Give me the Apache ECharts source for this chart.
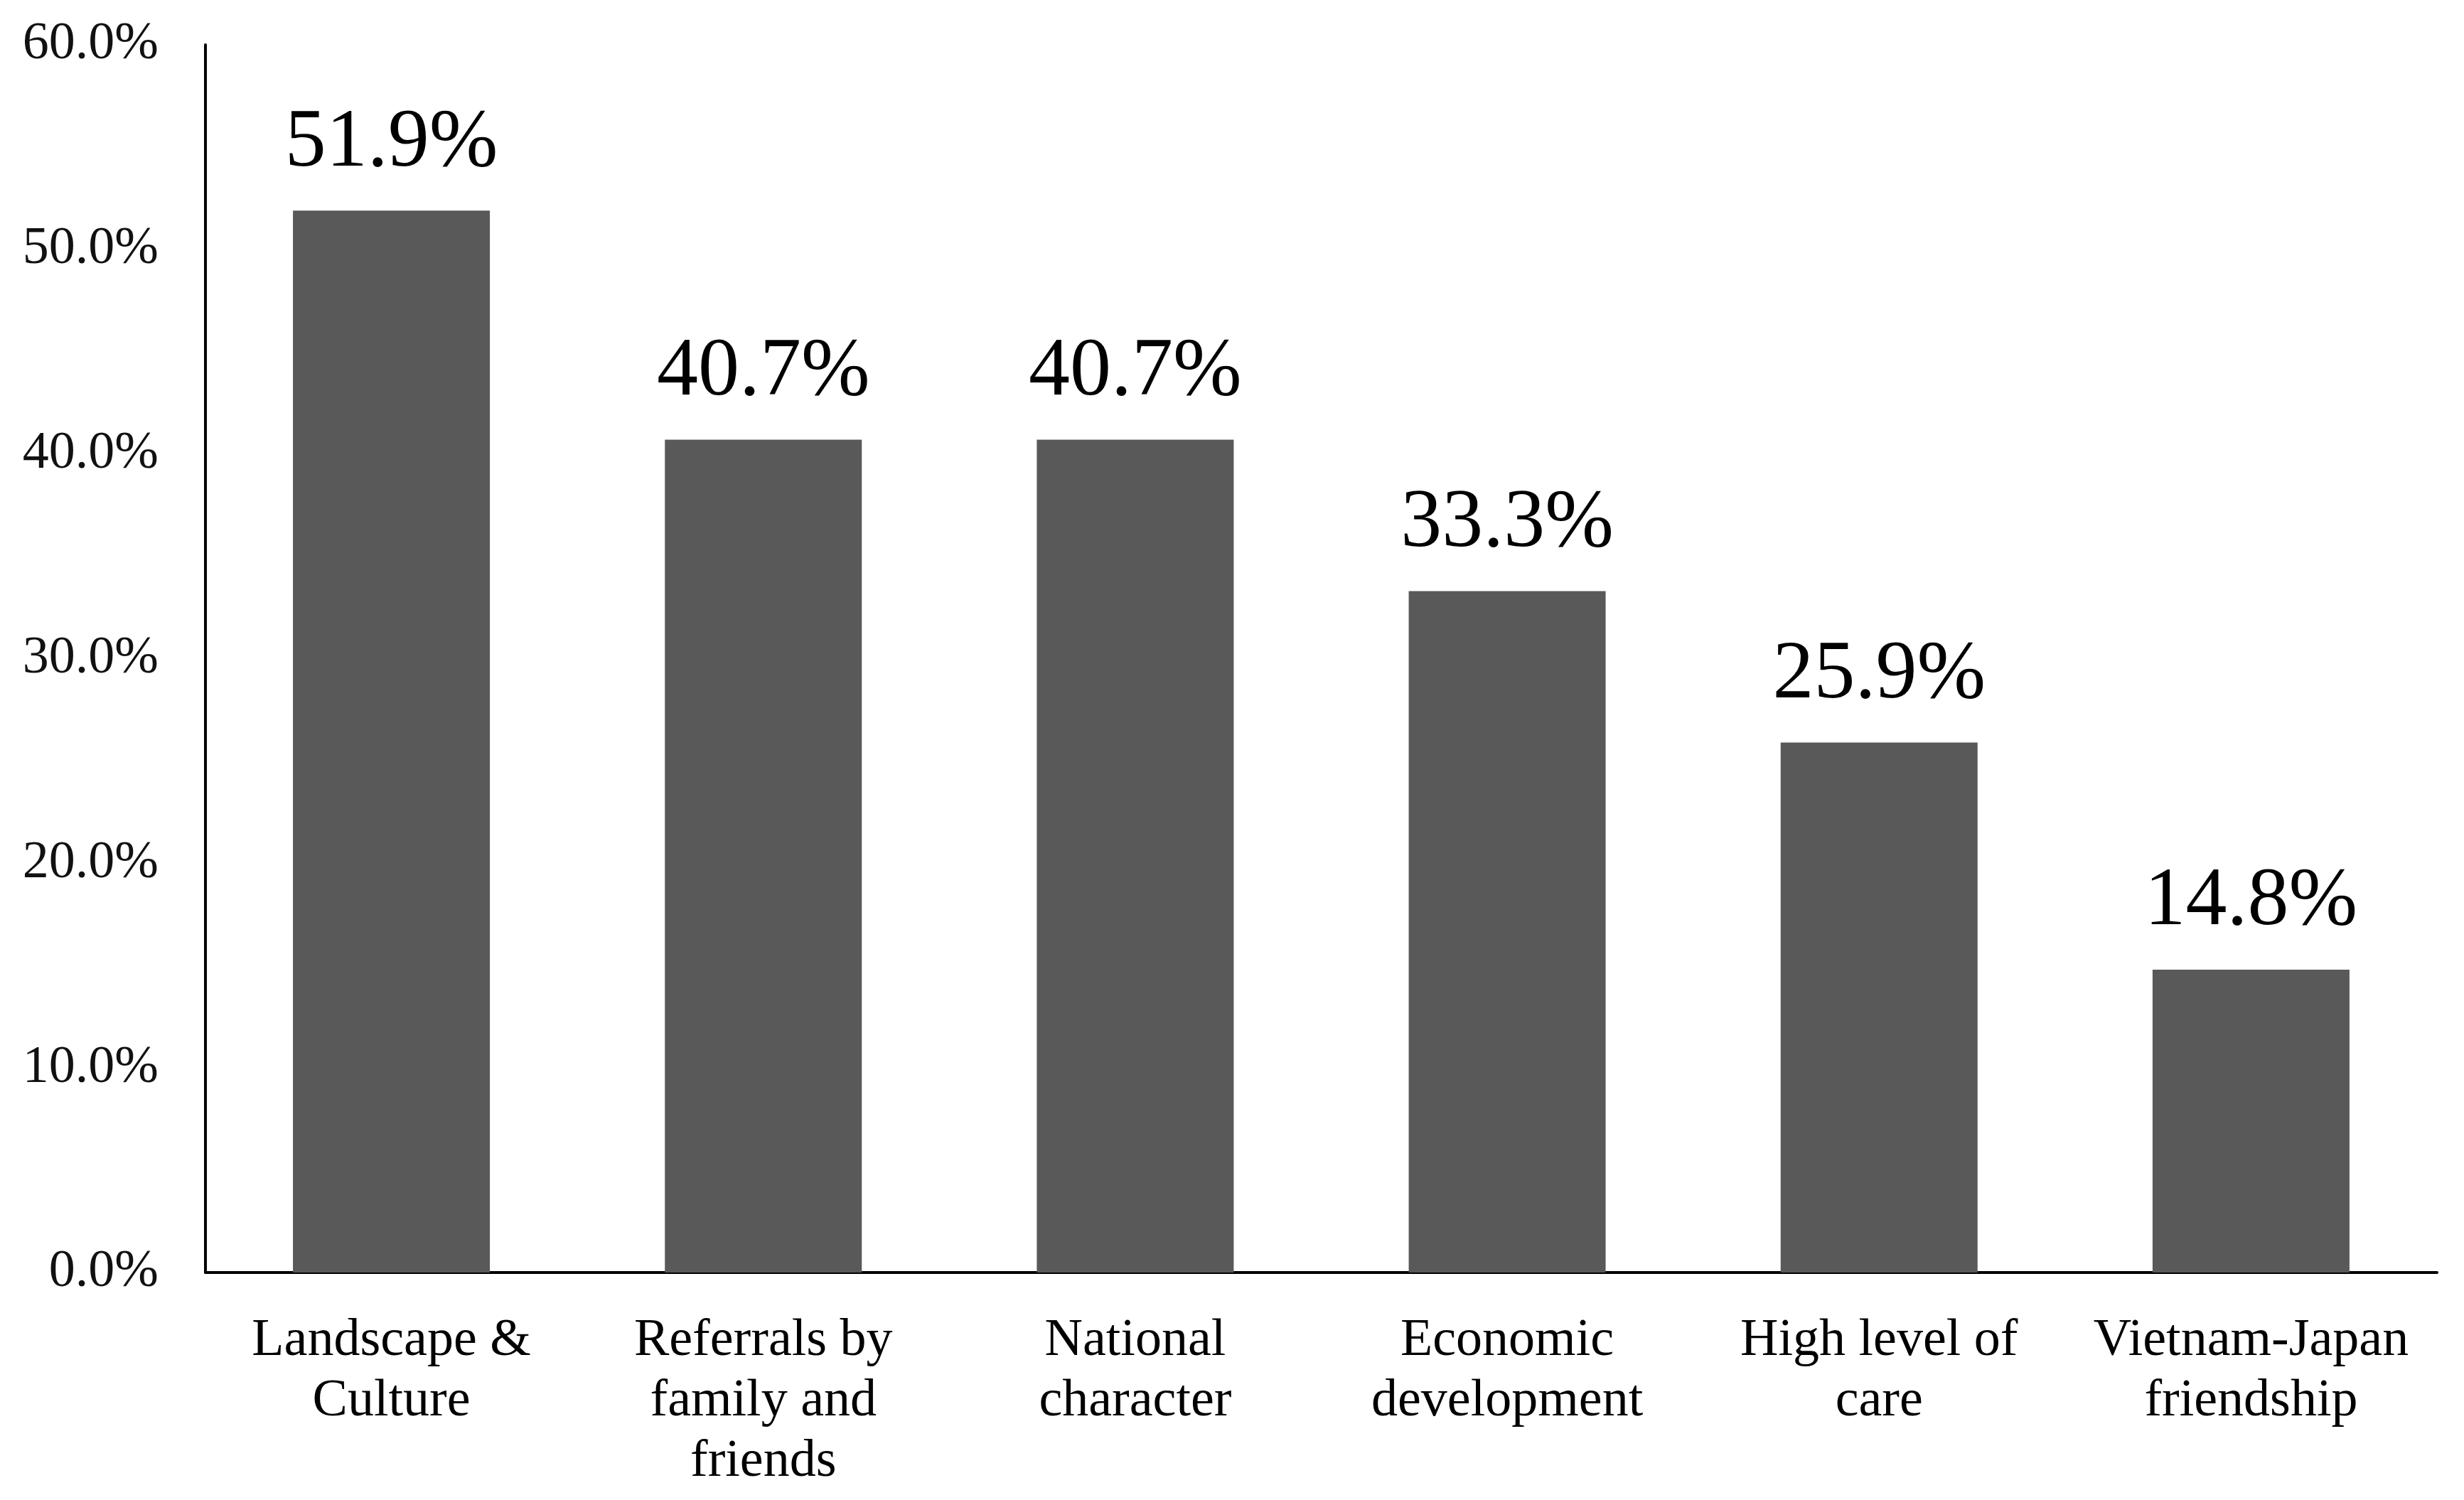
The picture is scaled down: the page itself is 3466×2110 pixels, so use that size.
<!DOCTYPE html>
<html>
<head>
<meta charset="utf-8">
<script src="https://cdn.jsdelivr.net/npm/echarts@6/dist/echarts.min.js"></script>
<style>
html,body{margin:0;padding:0;background:#fff;}
#chart{width:3466px;height:2110px;}
</style>
</head>
<body>
<div id="chart"></div>
<script>
const categories = [
  "Landscape &\nCulture",
  "Referrals by\nfamily and\nfriends",
  "National\ncharacter",
  "Economic\ndevelopment",
  "High level of\ncare",
  "Vietnam-Japan\nfriendship"
];
const values = [51.9, 40.7, 40.7, 33.3, 25.9, 14.8];
const yMin = 0, yMax = 60, yInterval = 10;

const FONT = '"Liberation Serif", "Times New Roman", serif';
const chart = echarts.init(document.getElementById('chart'), null, {renderer: 'canvas'});
chart.setOption({
  animation: false,
  backgroundColor: '#ffffff',
  grid: {left: 289, right: 38, top: 63, bottom: 320, containLabel: false},
  xAxis: {
    type: 'category',
    data: categories,
    axisLine: {show: true, lineStyle: {color: '#000', width: 4}},
    axisTick: {show: false},
    axisLabel: {
      interval: 0,
      fontFamily: FONT,
      fontSize: 74,
      lineHeight: 85,
      color: '#000',
      margin: 54
    },
    splitLine: {show: false}
  },
  yAxis: {
    type: 'value',
    min: yMin, max: yMax, interval: yInterval,
    axisLine: {show: true, lineStyle: {color: '#000', width: 4}},
    axisTick: {show: false},
    splitLine: {show: false},
    axisLabel: {
      fontFamily: FONT,
      fontSize: 74,
      color: '#111',
      margin: 66,
      formatter: v => v.toFixed(1) + '%'
    }
  },
  series: [{
    type: 'bar',
    data: values,
    barWidth: 277,
    itemStyle: {color: '#595959'},
    label: {
      show: true,
      position: 'top',
      distance: 36,
      fontFamily: FONT,
      fontSize: 116,
      color: '#000',
      formatter: p => p.value.toFixed(1) + '%'
    }
  }]
});
</script>
</body>
</html>
